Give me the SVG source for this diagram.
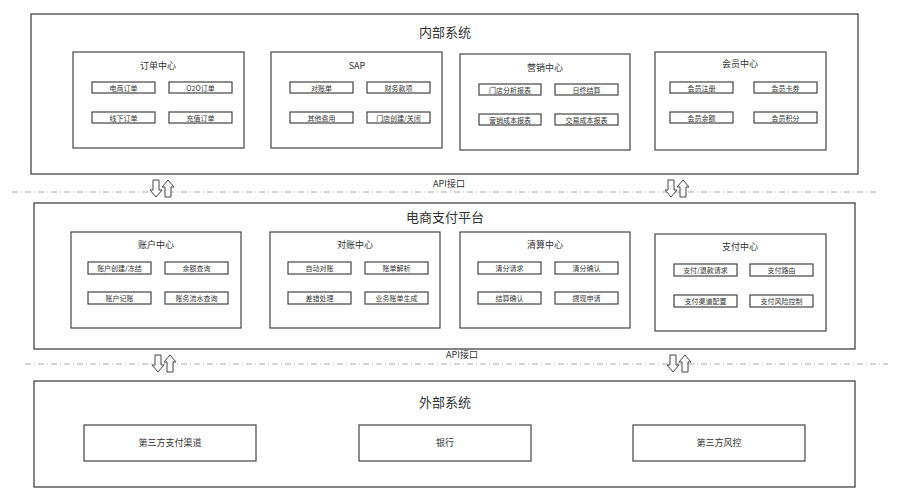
<svg xmlns="http://www.w3.org/2000/svg" width="901" height="500" viewBox="0 0 901 500">
<defs>
<style>
text{font-family:"Noto Sans CJK SC","Liberation Sans",sans-serif;fill:#333;text-anchor:middle}
.o{fill:#fff;stroke:#444;stroke-width:1.3}
.c{fill:#fff;stroke:#444;stroke-width:1.2}
.s{fill:#fff;stroke:#444;stroke-width:1.2}
.t1{font-size:13px}
.t2{font-size:9px}
.t3{font-size:7px}
.t4{font-size:9px}
.d{stroke:#aaa;stroke-width:1;stroke-dasharray:6 3 1 3;fill:none}
.a{fill:#fff;stroke:#444;stroke-width:1}
</style>
<g id="ad"><polygon points="-3,0 3,0 3,10 6,10 0,17 -6,10 -3,10"/></g>
<g id="au"><polygon points="-3,17 3,17 3,7 6,7 0,0 -6,7 -3,7"/></g>
</defs>
<rect width="901" height="500" fill="#fff"/>

<g id="internal">
<rect class="o" x="31" y="14" width="827" height="160"/>
<text class="t1" x="445" y="37">内部系统</text>
</g>
<g id="order"><rect class="c" x="73" y="52" width="171" height="96"/><text class="t2" x="158" y="69">订单中心</text>
<rect class="s" x="92" y="82" width="63" height="11"/><text class="t3" x="123.5" y="90.5">电商订单</text>
<rect class="s" x="169" y="82" width="63" height="11"/><text class="t3" x="200.5" y="90.5">O2O订单</text>
<rect class="s" x="92" y="112" width="63" height="11"/><text class="t3" x="123.5" y="120.5">线下订单</text>
<rect class="s" x="169" y="112" width="63" height="11"/><text class="t3" x="200.5" y="120.5">充值订单</text></g>
<g id="sap"><rect class="c" x="271" y="52" width="171" height="96"/><text class="t2" x="357" y="69">SAP</text>
<rect class="s" x="290" y="82" width="63" height="11"/><text class="t3" x="321.5" y="90.5">对账单</text>
<rect class="s" x="367" y="82" width="63" height="11"/><text class="t3" x="398.5" y="90.5">财务款项</text>
<rect class="s" x="290" y="112" width="63" height="11"/><text class="t3" x="321.5" y="120.5">其他费用</text>
<rect class="s" x="367" y="112" width="63" height="11"/><text class="t3" x="398.5" y="120.5">门店创建/关闭</text></g>
<g id="marketing"><rect class="c" x="460" y="54" width="170" height="96"/><text class="t2" x="545" y="71">营销中心</text>
<rect class="s" x="479" y="84" width="62" height="11"/><text class="t3" x="510" y="92.5">门店分析报表</text>
<rect class="s" x="555" y="84" width="63" height="11"/><text class="t3" x="586.5" y="92.5">日终结算</text>
<rect class="s" x="479" y="114" width="62" height="11"/><text class="t3" x="510" y="122.5">营销成本报表</text>
<rect class="s" x="555" y="114" width="63" height="11"/><text class="t3" x="586.5" y="122.5">交易成本报表</text></g>
<g id="member"><rect class="c" x="655" y="52" width="171" height="98"/><text class="t2" x="740" y="67">会员中心</text>
<rect class="s" x="670" y="82" width="63" height="11"/><text class="t3" x="701.5" y="90.5">会员注册</text>
<rect class="s" x="754" y="82" width="63" height="11"/><text class="t3" x="785.5" y="90.5">会员卡券</text>
<rect class="s" x="670" y="112" width="63" height="11"/><text class="t3" x="701.5" y="120.5">会员余额</text>
<rect class="s" x="754" y="112" width="63" height="11"/><text class="t3" x="785.5" y="120.5">会员积分</text></g>

<g id="platform">
<rect class="o" x="34" y="203" width="821" height="146"/>
<text class="t1" x="445" y="222">电商支付平台</text>
</g>
<g id="account"><rect class="c" x="71" y="232" width="170" height="96"/><text class="t2" x="156" y="248">账户中心</text>
<rect class="s" x="88" y="262" width="63" height="12"/><text class="t3" x="119.5" y="271">账户创建/冻结</text>
<rect class="s" x="165" y="262" width="63" height="12"/><text class="t3" x="196.5" y="271">余额查询</text>
<rect class="s" x="88" y="292" width="63" height="12"/><text class="t3" x="119.5" y="301">账户记账</text>
<rect class="s" x="165" y="292" width="63" height="12"/><text class="t3" x="196.5" y="301">账务流水查询</text></g>
<g id="recon"><rect class="c" x="270" y="232" width="170" height="96"/><text class="t2" x="355" y="248">对账中心</text>
<rect class="s" x="288" y="262" width="63" height="12"/><text class="t3" x="319.5" y="271">自动对账</text>
<rect class="s" x="365" y="262" width="63" height="12"/><text class="t3" x="396.5" y="271">账单解析</text>
<rect class="s" x="288" y="292" width="63" height="12"/><text class="t3" x="319.5" y="301">差错处理</text>
<rect class="s" x="365" y="292" width="63" height="12"/><text class="t3" x="396.5" y="301">业务账单生成</text></g>
<g id="clearing"><rect class="c" x="460" y="232" width="170" height="96"/><text class="t2" x="545" y="248">清算中心</text>
<rect class="s" x="478" y="262" width="63" height="12"/><text class="t3" x="509.5" y="271">清分请求</text>
<rect class="s" x="555" y="262" width="63" height="12"/><text class="t3" x="586.5" y="271">清分确认</text>
<rect class="s" x="478" y="292" width="63" height="12"/><text class="t3" x="509.5" y="301">结算确认</text>
<rect class="s" x="555" y="292" width="63" height="12"/><text class="t3" x="586.5" y="301">提现申请</text></g>
<g id="payment"><rect class="c" x="655" y="234" width="171" height="97"/><text class="t2" x="740" y="250">支付中心</text>
<rect class="s" x="674" y="264" width="63" height="12"/><text class="t3" x="705.5" y="273">支付/退款请求</text>
<rect class="s" x="750" y="264" width="63" height="12"/><text class="t3" x="781.5" y="273">支付路由</text>
<rect class="s" x="674" y="295" width="63" height="12"/><text class="t3" x="705.5" y="304">支付渠道配置</text>
<rect class="s" x="750" y="295" width="63" height="12"/><text class="t3" x="781.5" y="304">支付风险控制</text></g>

<g id="external">
<rect class="o" x="34" y="381" width="821" height="106"/>
<text class="t1" x="445" y="407">外部系统</text>
</g>
<g id="ch"><rect class="c" x="84" y="425" width="172" height="36"/><text class="t4" x="170" y="446">第三方支付渠道</text></g>
<g id="bank"><rect class="c" x="359" y="425" width="172" height="36"/><text class="t4" x="445" y="446">银行</text></g>
<g id="risk"><rect class="c" x="633" y="425" width="172" height="36"/><text class="t4" x="719" y="446">第三方风控</text></g>

<g id="connectors">
<line class="d" x1="12" y1="192" x2="877" y2="192"/>
<text class="t3" x="449" y="187" style="font-size:9px">API接口</text>
<line class="d" x1="25" y1="364" x2="888" y2="364"/>
<text class="t3" x="462" y="358" style="font-size:9px">API接口</text>
<use href="#ad" class="a" x="156" y="180"/><use href="#au" class="a" x="168" y="180"/>
<use href="#ad" class="a" x="671" y="180"/><use href="#au" class="a" x="683" y="180"/>
<use href="#ad" class="a" x="158" y="355"/><use href="#au" class="a" x="170" y="355"/>
<use href="#ad" class="a" x="673" y="355"/><use href="#au" class="a" x="685" y="355"/>
</g>
</svg>
